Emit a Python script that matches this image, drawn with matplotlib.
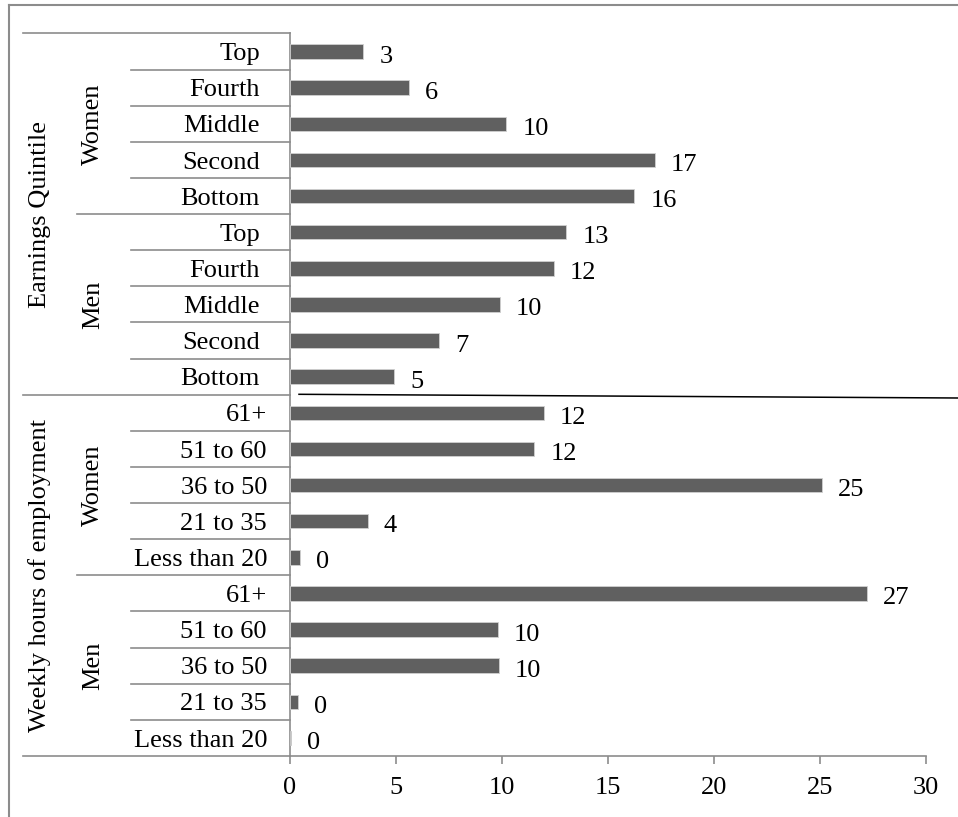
import matplotlib
matplotlib.use("Agg")
import matplotlib.pyplot as plt
from matplotlib.transforms import blended_transform_factory
from matplotlib.lines import Line2D

plt.rcParams["font.family"] = ["Liberation Serif", "DejaVu Serif"]

# ---- data -------------------------------------------------------------
sections = ["Earnings Quintile", "Weekly hours of employment"]
genders = ["Women", "Men"]
earnings_levels = ["Top", "Fourth", "Middle", "Second", "Bottom"]
hours_levels = ["61+", "51 to 60", "36 to 50", "21 to 35", "Less than 20"]

earnings_women = [3.46, 5.61, 10.20, 17.22, 16.24]
earnings_men = [13.03, 12.45, 9.90, 7.03, 4.90]
hours_women = [11.98, 11.52, 25.10, 3.67, 0.45]
hours_men = [27.23, 9.79, 9.85, 0.37, 0.05]

x_ticks = [0, 5, 10, 15, 20, 25, 30]

# ---- assemble rows (top to bottom) -------------------------------------
rows = []  # (section index, gender index, level label, value)
for s, (levels, series) in enumerate([
        (earnings_levels, [earnings_women, earnings_men]),
        (hours_levels, [hours_women, hours_men])]):
    for g, vals in enumerate(series):
        for lab, v in zip(levels, vals):
            rows.append((s, g, lab, v))

n = len(rows)
W, H = 958, 817
fig = plt.figure(figsize=(W / 100, H / 100), dpi=100)

def fx(px):
    return px / W

def fy(py):
    return 1 - py / H

ax_left, ax_right, ax_top, ax_bottom = 290, 926, 33.5, 756
ax = fig.add_axes([fx(ax_left), fy(ax_bottom), fx(ax_right - ax_left),
                   (ax_bottom - ax_top) / H])
row_px = (ax_bottom - ax_top) / n

FS = 19
grey = "#8c8c8c"
bar_color = "#606060"

ypos = list(range(n))
values = [r[3] for r in rows]
ax.barh(ypos, values, height=0.40, color=bar_color,
        edgecolor="#d0d0d0", linewidth=0.6, zorder=3)

# value labels: baseline placed so the digits sit just below the bar centre
lab_shift = 11.0 / row_px
for y, v in zip(ypos, values):
    ax.annotate(f"{v:.0f}", (v, y + lab_shift), xytext=(16, 0),
                textcoords="offset pixels", ha="left", va="baseline",
                fontsize=FS, color="black")

ax.set_xlim(0, 30)
ax.set_ylim(n - 0.5, -0.5)
ax.set_xticks(x_ticks)
ax.set_xticklabels([str(t) for t in x_ticks], fontsize=FS)
ax.set_yticks([])
ax.tick_params(axis="x", direction="out", length=5.8, width=1.2,
               color=grey, pad=9.5)
for side in ("top", "right"):
    ax.spines[side].set_visible(False)
for side in ("left", "bottom"):
    ax.spines[side].set_color(grey)
    ax.spines[side].set_linewidth(1.2)

# ---- multi-level category table ----------------------------------------
tr = blended_transform_factory(fig.transFigure, ax.transData)
col0, col1, col2 = 22.7, 77, 131
for i in range(n + 1):
    yb = i - 0.5
    if i % 10 == 0:
        x0 = col0
    elif i % 5 == 0:
        x0 = col1
    else:
        x0 = col2
    ax.add_line(Line2D([fx(x0), fx(ax_left)], [yb, yb], transform=tr,
                       color=grey, linewidth=1.2, clip_on=False, zorder=2))

cat_shift = 8.6 / row_px
for i, (s, g, lab, v) in enumerate(rows):
    xr = 260 if s == 0 else 267
    ax.text(fx(xr), i + cat_shift, lab, transform=tr, ha="right",
            va="baseline", fontsize=FS)

for s, name in enumerate(sections):
    ax.text(fx(40), s * 10 + 4.5, name, transform=tr, rotation=90,
            ha="center", va="center", fontsize=FS)
    for g, gname in enumerate(genders):
        ax.text(fx(93), s * 10 + g * 5 + 2, gname, transform=tr,
                rotation=90, ha="center", va="center", fontsize=FS)

# separator drawn across the plot between the two sections
fig.add_artist(Line2D([fx(299), fx(958)], [fy(394.3), fy(398)],
                      color="black", linewidth=1.1))

# chart area border (top and left edges)
fig.add_artist(Line2D([fx(8.5), fx(958)], [fy(4.5), fy(4.5)],
                      color=grey, linewidth=1.5))
fig.add_artist(Line2D([fx(8.5), fx(8.5)], [fy(4.5), fy(817)],
                      color=grey, linewidth=1.5))

fig.savefig("out.png", dpi=100)
